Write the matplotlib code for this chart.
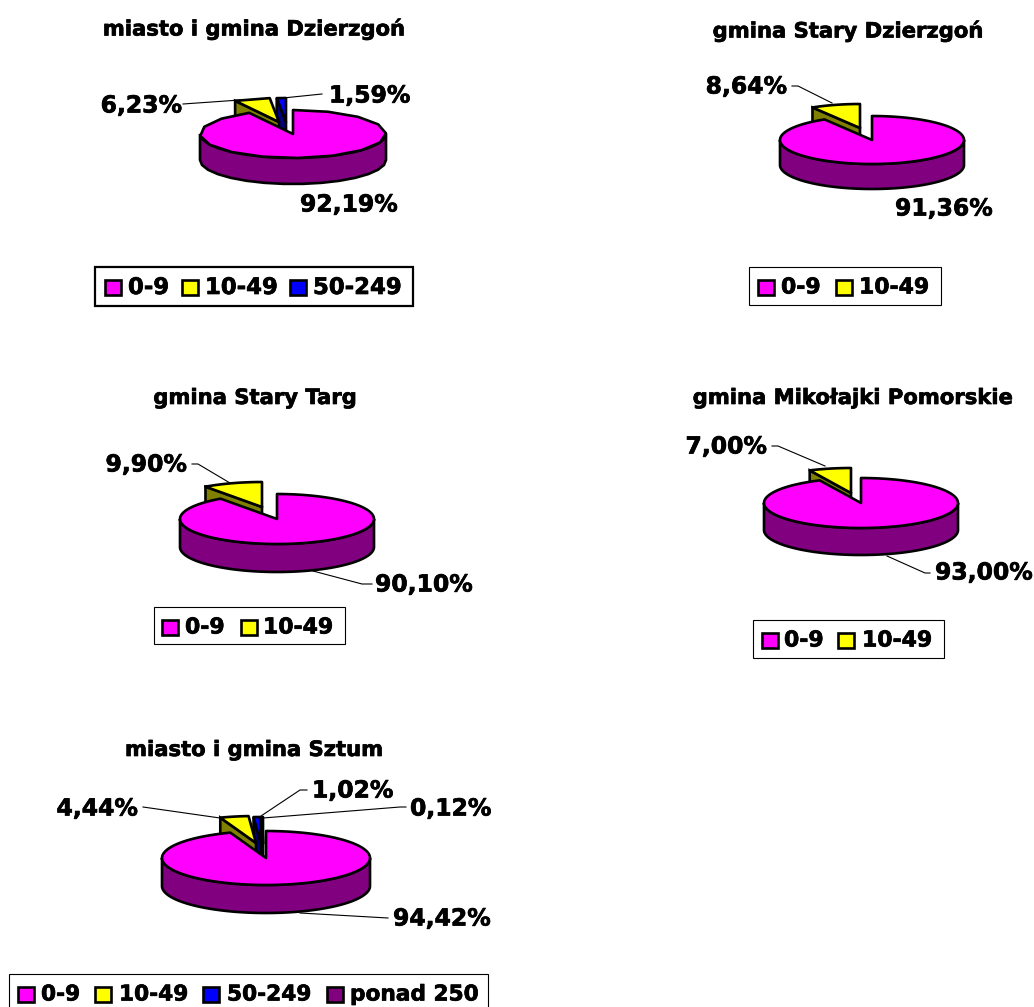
import numpy as np
import matplotlib
matplotlib.use('Agg')
import matplotlib.pyplot as plt
import matplotlib.patheffects as pe
from matplotlib.patches import Polygon, Rectangle

W, H = 1034, 1007

titles = ['miasto i gmina Dzierzgoń', 'gmina Stary Dzierzgoń', 'gmina Stary Targ',
          'gmina Mikołajki Pomorskie', 'miasto i gmina Sztum']
categories = ['0-9', '10-49', '50-249', 'ponad 250']
dzierzgon = [92.19, 6.23, 1.59]
stary_dzierzgon = [91.36, 8.64]
stary_targ = [90.10, 9.90]
mikolajki = [93.00, 7.00]
sztum = [94.42, 4.44, 1.02, 0.12]

top_colors = ['#ff00ff', '#ffff00', '#0000ff', '#800080']
side_colors = ['#800080', '#808000', '#000080', '#400040']

# layout, all in pixels of the picture
pies = [
    dict(vals=dzierzgon, title=titles[0], tpos=(254, 29), steps=16,
         c=(293, 134), r=(93, 24), d=26,
         off=[(0, 0), (-14, -12), (-7, -12)],
         lab=[((300, 205), 'left', None),
              ((182, 106), 'right', [(183, 104), (240, 100)]),
              ((329, 96), 'left', [(322, 94), (283, 98)])],
         leg=(95, 267, 413, 306), ym=287, sw=[105, 182, 290], txt=[128, 205, 313], lw=1.6, fs=16.4),
    dict(vals=stary_dzierzgon, title=titles[1], tpos=(848, 31), steps=120,
         c=(872, 140), r=(92, 24), d=25,
         off=[(0, 0), (-12, -12)],
         lab=[((895, 209), 'left', None),
              ((787, 87), 'right', [(792, 86), (798, 86), (832, 103)])],
         leg=(749, 267, 941, 305), ym=287, sw=[758, 836], txt=[781, 859], lw=0.8, fs=15.8),
    dict(vals=stary_targ, title=titles[2], tpos=(255, 398), steps=120,
         c=(277, 519), r=(97, 25), d=28,
         off=[(0, 0), (-15, -12)],
         lab=[((375, 585), 'left', [(313, 571), (362, 584), (372, 584)]),
              ((187, 465), 'right', [(192, 464), (198, 464), (230, 483)])],
         leg=(154, 607, 345, 644), ym=627, sw=[162, 241], txt=[185, 263], lw=0.8, fs=15.8),
    dict(vals=mikolajki, title=titles[3], tpos=(853, 398), steps=120,
         c=(861, 503), r=(97, 25), d=27,
         off=[(0, 0), (-10, -10)],
         lab=[((935, 573), 'left', [(887, 556), (925, 573), (930, 573)]),
              ((767, 447), 'right', [(772, 446), (778, 446), (825, 466)])],
         leg=(753, 620, 944, 658), ym=640, sw=[762, 838], txt=[784, 862], lw=0.8, fs=15.8),
    dict(vals=sztum, title=titles[4], tpos=(254, 750), steps=120,
         c=(266, 858), r=(104, 27), d=28,
         off=[(0, 0), (-10, -15), (-5, -14), (-3, -14)],
         lab=[((393, 919), 'left', [(300, 913), (388, 918)]),
              ((138, 809), 'right', [(143, 807), (220, 818)]),
              ((312, 791), 'left', [(307, 790), (300, 790), (258, 818)]),
              ((410, 809), 'left', [(406, 807), (400, 807), (263, 818)])],
         leg=(9, 974, 488, 1015), ym=994, sw=[18, 95, 203, 327], txt=[41, 119, 227, 350], lw=0.8, fs=15.6),
]

heavy = [pe.withStroke(linewidth=0.5, foreground='k')]


def arc(c, r, t0, t1, off=(0, 0), n=120):
    t = np.radians(np.linspace(t0, t1, n))
    return np.column_stack([c[0] + off[0] + r[0] * np.sin(t),
                            c[1] + off[1] - r[1] * np.cos(t)])


def draw_slice(ax, p, t0, t1, off, top, side, z):
    c, r, d = p['c'], p['r'], p['d']
    n = max(2, int(p['steps'] * (t1 - t0) / 360) + 2)
    apex = np.array([c[0] + off[0], c[1] + off[1]])
    a0 = arc(c, r, t0, t0, off, n=1)[0]
    low = np.array([0, d])
    # cut face of a pulled out slice
    if off != (0, 0):
        ax.add_patch(Polygon([apex, a0, a0 + low, apex + low], fc=side, ec='k', lw=1.9, zorder=z))
    lo, hi = max(t0, 90), min(t1, 270)
    if hi > lo:
        rim = arc(c, r, lo, hi, off, n=n)
        ax.add_patch(Polygon(np.vstack([rim, (rim + low)[::-1]]), fc=side, ec='k', lw=1.9, zorder=z))
    ax.add_patch(Polygon(np.vstack([apex, arc(c, r, t0, t1, off, n=n)]), fc=top, ec='k', lw=1.9,
                         joinstyle='round', zorder=z + 0.1))


fig = plt.figure(figsize=(W / 100, H / 100), dpi=100)
ax = fig.add_axes([0, 0, 1, 1])
ax.set_xlim(0, W)
ax.set_ylim(H, 0)
ax.axis('off')

for p in pies:
    ax.text(p['tpos'][0], p['tpos'][1], p['title'], fontsize=15.2, fontweight='bold',
            ha='center', va='center', zorder=10, path_effects=heavy)
    edges = np.cumsum([0] + p['vals']) / sum(p['vals']) * 360
    n = len(p['vals'])
    # small slices first, the big slice covers them
    for i in range(n - 1, -1, -1):
        z = 3 if i == 0 else 2 + (n - i) * 0.01
        draw_slice(ax, p, edges[i], edges[i + 1], p['off'][i], top_colors[i], side_colors[i], z)
    for v, (pos, ha, line) in zip(p['vals'], p['lab']):
        s = f'{v:.2f}'.replace('.', ',') + '%'
        ax.text(pos[0], pos[1], s, fontsize=16.9, fontweight='bold', ha=ha, va='center',
                zorder=10, path_effects=heavy)
        if line:
            xs, ys = zip(*line)
            ax.plot(xs, ys, color='k', lw=0.8, zorder=9)
    x0, y0, x1, y1 = p['leg']
    ax.add_patch(Rectangle((x0, y0), x1 - x0, y1 - y0, fc='w', ec='k', lw=p['lw'], zorder=5))
    ym = p['ym']
    for i in range(n):
        ax.add_patch(Rectangle((p['sw'][i], ym - 7.5), 16, 15, fc=top_colors[i], ec='k', lw=1.9, zorder=6))
        ax.text(p['txt'][i], ym + 0.5, categories[i], fontsize=p['fs'], fontweight='bold',
                ha='left', va='center', zorder=6, path_effects=heavy)

fig.savefig('out.png', dpi=100)
